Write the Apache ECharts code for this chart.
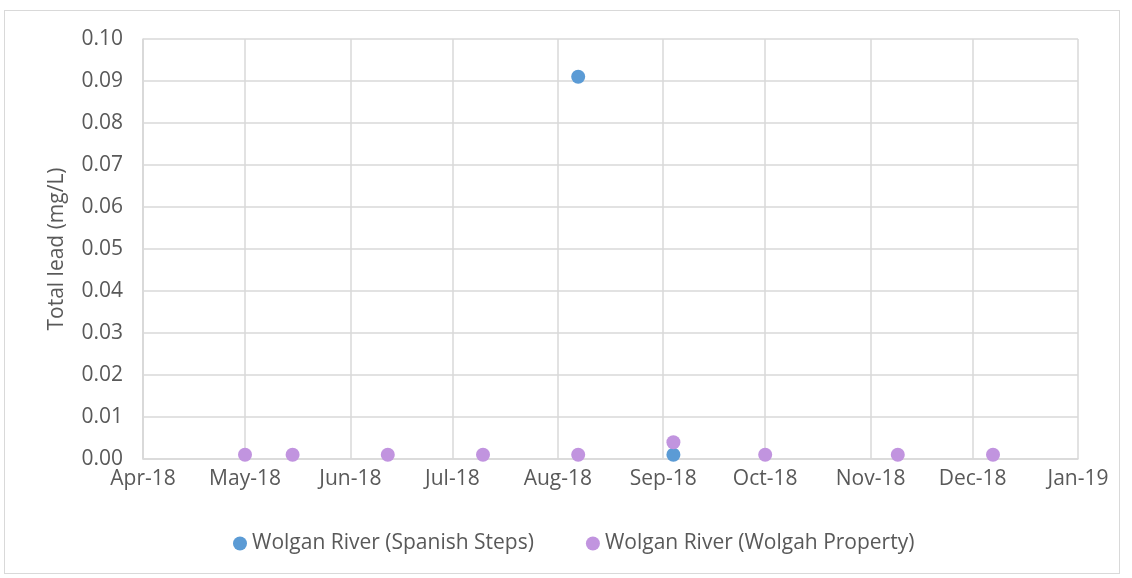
<!DOCTYPE html>
<html>
<head>
<meta charset="utf-8">
<script src="https://cdn.jsdelivr.net/npm/echarts@6/dist/echarts.min.js"></script>
<style>
  html, body { margin: 0; padding: 0; background: #fff; }
  #frame { position: absolute; left: 4px; top: 10px; width: 1116px; height: 564px; border: 1px solid #d9d9d9; box-sizing: border-box; }
  #main { position: absolute; left: 0; top: 0; width: 1132px; height: 578px; }
</style>
</head>
<body>
<div id="frame"></div>
<div id="main"></div>
<script>
// sample dates and total lead values (mg/L)
var spanishDates = ['2018-08-07', '2018-09-04'];
var spanishLead = [0.091, 0.001];

var wolgahDates = ['2018-05-01', '2018-05-15', '2018-06-12', '2018-07-10', '2018-08-07',
                   '2018-09-04', '2018-10-01', '2018-11-09', '2018-12-07'];
var wolgahLead = [0.001, 0.001, 0.001, 0.001, 0.001, 0.004, 0.001, 0.001, 0.001];

var monthNames = ['Jan', 'Feb', 'Mar', 'Apr', 'May', 'Jun', 'Jul', 'Aug', 'Sep', 'Oct', 'Nov', 'Dec'];

function pairs(dates, vals) {
    var out = [];
    for (var i = 0; i < dates.length; i++) {
        out.push([dates[i], vals[i]]);
    }
    return out;
}

var textColor = '#595959';
var font = '"Open Sans", Lato, sans-serif';

var myChart = echarts.init(document.getElementById('main'));
myChart.setOption({
    animation: false,
    grid: {left: 143, right: 54, top: 39, bottom: 119},
    legend: {
        bottom: 19,
        left: 228,
        itemWidth: 14,
        itemHeight: 14,
        itemGap: 52,
        icon: 'circle',
        textStyle: {color: textColor, fontSize: 21, fontFamily: font},
        data: ['Wolgan River (Spanish Steps)', 'Wolgan River (Wolgah Property)']
    },
    xAxis: {
        type: 'time',
        min: '2018-04-01',
        max: '2019-01-01',
        minInterval: 28 * 86400000,
        maxInterval: 31 * 86400000,
        axisLine: {show: true, lineStyle: {color: '#d9d9d9', width: 1.5}},
        axisTick: {show: false},
        splitLine: {show: true, lineStyle: {color: '#d9d9d9', width: 1.5}},
        axisLabel: {
            color: textColor,
            fontSize: 21,
            fontFamily: font,
            margin: 10,
            showMinLabel: true,
            showMaxLabel: true,
            formatter: function (v) {
                var d = new Date(v);
                return monthNames[d.getMonth()] + '-' + String(d.getFullYear()).slice(2);
            }
        }
    },
    yAxis: {
        type: 'value',
        min: 0,
        max: 0.1,
        interval: 0.01,
        name: 'Total lead (mg/L)',
        nameLocation: 'middle',
        nameGap: 75,
        nameTextStyle: {color: textColor, fontSize: 21, fontFamily: font},
        axisLine: {show: true, lineStyle: {color: '#d9d9d9', width: 1.5}},
        axisTick: {show: false},
        splitLine: {lineStyle: {color: '#d9d9d9', width: 1.5}},
        axisLabel: {
            color: textColor,
            fontSize: 21,
            fontFamily: font,
            margin: 20,
            formatter: function (v) { return v.toFixed(2); }
        }
    },
    series: [
        {
            name: 'Wolgan River (Spanish Steps)',
            type: 'scatter',
            symbolSize: 14,
            itemStyle: {color: '#5b9bd5', opacity: 1},
            data: pairs(spanishDates, spanishLead)
        },
        {
            name: 'Wolgan River (Wolgah Property)',
            type: 'scatter',
            symbolSize: 14,
            itemStyle: {color: '#c194df', opacity: 1},
            data: pairs(wolgahDates, wolgahLead)
        }
    ]
});
</script>
</body>
</html>
